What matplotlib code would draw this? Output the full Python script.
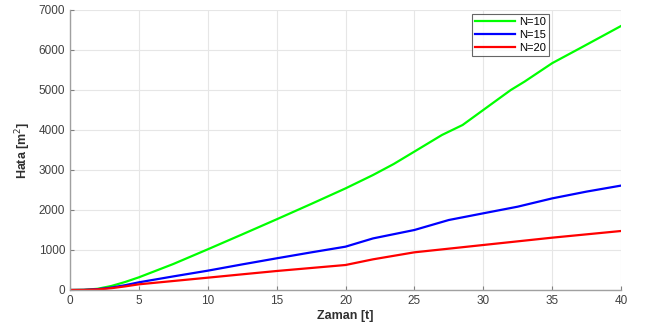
import matplotlib
matplotlib.use("Agg")
import matplotlib.pyplot as plt
import numpy as np

plt.rcParams['font.family'] = ['Liberation Sans', 'DejaVu Sans']

t_n10 = [0, 1, 2, 3, 4, 5, 7.5, 10, 12.5, 15, 17.5, 20, 22, 23.5, 25, 27, 28.5, 30, 32, 33, 35, 37, 40]
y_n10 = [0, 5, 30, 100, 200, 317, 650, 1017, 1390, 1767, 2150, 2540, 2875, 3150, 3460, 3875, 4125, 4500, 5000, 5210, 5670, 6040, 6600]

t_n15 = [0, 1, 2, 3, 4, 5, 7.5, 10, 12.5, 15, 17.5, 20, 22, 25, 27.5, 30, 32.5, 35, 37.5, 40]
y_n15 = [0, 3, 20, 60, 120, 192, 340, 483, 640, 792, 940, 1083, 1290, 1500, 1750, 1917, 2083, 2290, 2460, 2610]

t_n20 = [0, 1, 2, 3, 4, 5, 7.5, 10, 12.5, 15, 17.5, 20, 22, 25, 30, 35, 40]
y_n20 = [0, 2, 15, 45, 90, 142, 225, 308, 392, 475, 550, 625, 767, 942, 1125, 1308, 1475]

labels = ['N=10', 'N=15', 'N=20']
colors = ['#00ff00', '#0000ff', '#ff0000']

fig = plt.figure(figsize=(6.5, 3.22), dpi=100)
ax = fig.add_axes([70/650, 1 - 290/322, (621-70)/650, (290-10)/322])

for t, y, lab, c in zip([t_n10, t_n15, t_n20], [y_n10, y_n15, y_n20], labels, colors):
    ax.plot(t, y, color=c, lw=1.6, label=lab, solid_joinstyle='round')

ax.set_xlim(0, 40)
ax.set_ylim(0, 7000)
ax.set_xticks(np.arange(0, 41, 5))
ax.set_yticks(np.arange(0, 7001, 1000))
ax.grid(True, color='#e6e6e6', lw=0.8)
ax.set_axisbelow(True)
for s in ['top', 'right']:
    ax.spines[s].set_visible(False)
for s in ['left', 'bottom']:
    ax.spines[s].set_color('#a0a0a0')
    ax.spines[s].set_linewidth(1.0)
ax.tick_params(direction='in', length=3, color='#808080', labelsize=8.5, labelcolor='#404040')

ax.set_xlabel('Zaman [t]', fontsize=9, fontweight='bold', color='#303030', labelpad=2)
ax.set_ylabel('Hata [m$^2$]', fontsize=9, fontweight='bold', color='#303030', labelpad=4)

leg = ax.legend(loc='upper right', bbox_to_anchor=(549/650, 1 - 14/322), bbox_transform=fig.transFigure,
                fontsize=8, frameon=True, fancybox=False, edgecolor='#404040', handlelength=3.6,
                handletextpad=0.3, borderpad=0.3, labelspacing=0.25, borderaxespad=0)
leg.get_frame().set_linewidth(0.8)

fig.savefig('out.png', dpi=100, facecolor='white')
